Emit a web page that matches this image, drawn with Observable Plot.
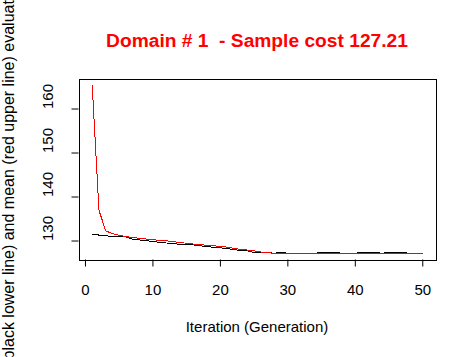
<!DOCTYPE html>
<html><head><meta charset="utf-8">
<script src="https://cdn.jsdelivr.net/npm/d3@7"></script>
<script src="https://cdn.jsdelivr.net/npm/@observablehq/plot@0.6"></script>
<style>html,body{margin:0;padding:0;background:#fff;} svg{display:block}</style>
</head><body><div id="chart"></div>
<script>
const iterations = [1,2,3,4,5,6,7,8,9,10,11,12,13,14,15,16,17,18,19,20,21,22,23,24,25,26,27,28,29,30,31,32,33,34,35,36,37,38,39,40,41,42,43,44,45,46,47,48,49,50];
const bestValues = [131.6,131.35,131.2,131.05,131.0,130.95,130.4,130.25,130.05,129.95,129.65,129.55,129.45,129.2,129.15,129.1,128.95,128.7,128.6,128.45,128.3,128.0,127.9,127.75,127.4,127.44,127.44,127.21,127.44,127.21,127.21,127.21,127.21,127.21,127.44,127.44,127.44,127.21,127.21,127.21,127.44,127.44,127.44,127.21,127.44,127.44,127.44,127.21,127.21,127.21];
const meanValues = [165.3,137.0,132.3,131.7,131.3,131.0,130.8,130.6,130.45,130.3,130.15,130.05,129.85,129.65,129.5,129.3,129.15,129.05,128.9,128.8,128.6,128.35,128.1,127.95,127.75,127.5,127.3,127.25,127.21,127.21,127.21,127.21,127.21,127.21,127.21,127.21,127.21,127.21,127.21,127.21,127.21,127.21,127.21,127.21,127.21,127.21,127.21,127.21,127.21,127.21];
const xTicks = [0,10,20,30,40,50];
const yTicks = [130,140,150,160];
const titleText = "Domain # 1  - Sample cost 127.21";
const xLabel = "Iteration (Generation)";
const yLabel = "Best (black lower line) and mean (red upper line) evaluations";

const best = iterations.map((x, i) => ({x, y: bestValues[i]}));
const mean = iterations.map((x, i) => ({x, y: meanValues[i]}));
function rPad(lo, hi) { const d = (hi - lo) * 0.04; return [lo - d, hi + d]; }
const xDomain = rPad(d3.min(iterations), d3.max(iterations));
const allY = bestValues.concat(meanValues);
const yDomain = rPad(d3.min(allY), d3.max(allY));

const W = 476, H = 357, mL = 78.5, mR = 40.5, mT = 78.5, mB = 97.5;
const font = "'Liberation Sans', Arial, sans-serif";

const svg = Plot.plot({
  width: W, height: H,
  marginLeft: mL, marginRight: mR, marginTop: mT, marginBottom: mB,
  style: {fontFamily: font, fontSize: "15px", background: "white", color: "black", overflow: "hidden"},
  x: {domain: xDomain},
  y: {domain: yDomain},
  marks: [
    Plot.axisX({ticks: xTicks, tickSize: 7, tickPadding: 17, fontSize: 15, label: null, tickFormat: d => String(d)}),
    Plot.axisY({ticks: yTicks, tickSize: 7, tickFormat: () => "", label: null}),
    Plot.text(yTicks, {y: d => d, text: d => String(d), frameAnchor: "left", rotate: -90, dx: -26.5, lineAnchor: "bottom", fontSize: 15, fill: "black"}),
    Plot.line(best, {x: "x", y: "y", stroke: "black", strokeWidth: 1, shapeRendering: "crispEdges"}),
    Plot.line(mean, {x: "x", y: "y", stroke: "red", strokeWidth: 1, shapeRendering: "crispEdges"}),
    Plot.frame({stroke: "black", strokeWidth: 1, shapeRendering: "crispEdges"})
  ]
});

const s = d3.select(svg);
const cx = (mL + (W - mR)) / 2;
s.append("text").attr("x", cx).attr("y", 46.7).attr("text-anchor", "middle")
  .attr("fill", "red").style("font-family", font).style("font-weight", "bold").style("font-size", "19.2px")
  .style("white-space", "pre").text(titleText);
s.append("text").attr("x", cx).attr("y", 332).attr("text-anchor", "middle")
  .attr("fill", "black").style("font-family", font).style("font-size", "15px").text(xLabel);
s.append("text").attr("transform", `translate(13.5,186) rotate(-90)`).attr("text-anchor", "middle")
  .attr("fill", "black").style("font-family", font).style("font-size", "16px").text(yLabel);

document.getElementById("chart").appendChild(svg);
</script>
</body></html>
